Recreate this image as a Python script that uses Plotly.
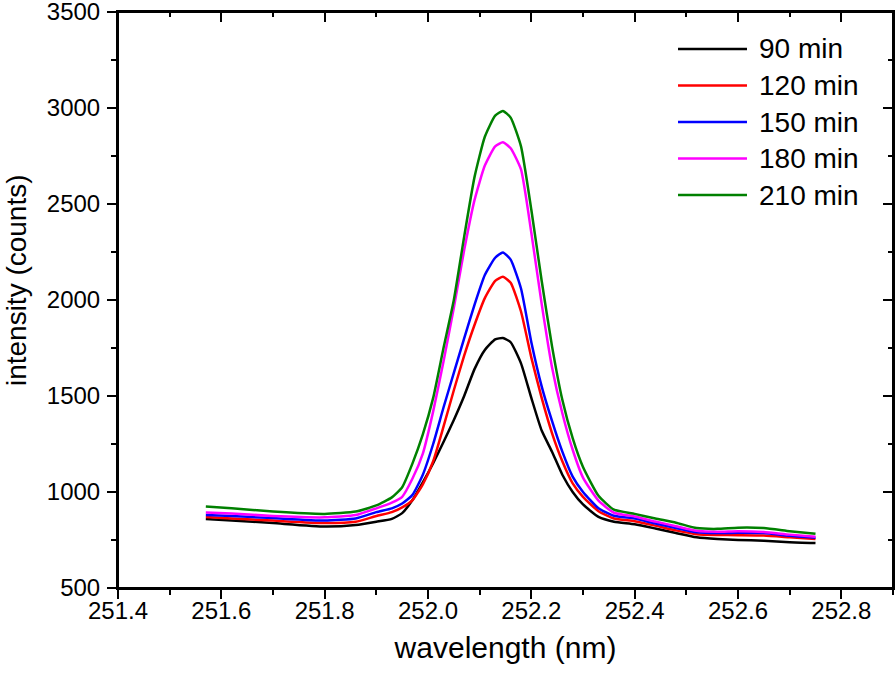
import plotly.graph_objects as go

# wavelength grid (nm)
wavelength = [251.57, 251.62, 251.70, 251.80, 251.86, 251.90, 251.93, 251.95, 251.97, 251.99,
              252.01, 252.03, 252.05, 252.07, 252.09, 252.11, 252.13, 252.145, 252.16, 252.18,
              252.20, 252.22, 252.24, 252.26, 252.28, 252.30, 252.33, 252.36, 252.40, 252.44,
              252.48, 252.52, 252.56, 252.60, 252.65, 252.70, 252.75]

# intensity (counts) per acquisition time
i_90 = [860, 852, 838, 820, 828, 845, 860, 890, 958, 1050,
        1150, 1260, 1375, 1500, 1640, 1740, 1795, 1802, 1780, 1670,
        1490, 1320, 1210, 1090, 1000, 935, 870, 845, 832, 810,
        786, 764, 755, 750, 746, 738, 734]
i_120 = [870, 862, 851, 838, 845, 875, 895, 920, 958, 1040,
         1160, 1340, 1530, 1710, 1870, 2010, 2100, 2121, 2090, 1940,
         1700, 1490, 1307, 1160, 1045, 975, 900, 862, 848, 825,
         800, 780, 776, 775, 773, 764, 755]
i_150 = [880, 875, 864, 851, 862, 895, 915, 940, 985, 1090,
         1250, 1440, 1620, 1800, 1975, 2130, 2220, 2248, 2210, 2060,
         1780, 1550, 1370, 1210, 1080, 1000, 915, 876, 862, 836,
         812, 790, 786, 788, 786, 772, 762]
i_180 = [893, 888, 875, 868, 880, 915, 945, 975, 1070, 1200,
         1420, 1680, 1960, 2260, 2520, 2700, 2800, 2822, 2790, 2680,
         2350, 1980, 1650, 1410, 1220, 1075, 955, 892, 872, 846,
         822, 798, 793, 796, 792, 778, 767]
i_210 = [924, 915, 898, 886, 898, 930, 972, 1025, 1149, 1300,
         1490, 1750, 2000, 2330, 2640, 2850, 2960, 2985, 2950, 2800,
         2470, 2100, 1760, 1480, 1280, 1130, 980, 908, 886, 862,
         840, 812, 808, 814, 812, 796, 782]

series = [
    ("90 min", i_90, "#000000"),
    ("120 min", i_120, "#ff0000"),
    ("150 min", i_150, "#0000ff"),
    ("180 min", i_180, "#ff00ff"),
    ("210 min", i_210, "#008000"),
]

FONT = "Liberation Sans, Arial, sans-serif"
X_RANGE = [251.4, 252.9]
Y_RANGE = [500, 3500]

fig = go.Figure()

for name, vals, color in series:
    fig.add_trace(
        go.Scatter(
            x=wavelength,
            y=vals,
            mode="lines",
            name=name,
            line=dict(color=color, width=2.5, shape="spline", smoothing=0.5),
            showlegend=False,
        )
    )

# invisible copies on the twin axes so the top/right inward ticks get drawn
fig.add_trace(go.Scatter(x=wavelength, y=i_90, xaxis="x2", yaxis="y", mode="lines",
                         opacity=0, showlegend=False, hoverinfo="skip"))
fig.add_trace(go.Scatter(x=wavelength, y=i_90, xaxis="x", yaxis="y2", mode="lines",
                         opacity=0, showlegend=False, hoverinfo="skip"))

# closed frame round the plot area
fig.add_shape(
    type="rect", xref="paper", yref="paper", x0=0, x1=1, y0=0, y1=1,
    line=dict(color="black", width=2), layer="above",
)

# hand-made legend (longer line samples, like the original)
for k, (name, vals, color) in enumerate(series):
    y_row = 0.9358 - k * 0.0634
    fig.add_shape(
        type="line", xref="paper", yref="paper",
        x0=0.7226, x1=0.8116, y0=y_row, y1=y_row,
        line=dict(color=color, width=2.5),
    )
    fig.add_annotation(
        xref="paper", yref="paper", x=0.8245, y=y_row,
        xanchor="left", yanchor="middle", showarrow=False,
        text=name, font=dict(family=FONT, size=28, color="black"),
    )

# y-axis title placed by hand
fig.add_annotation(
    xref="paper", yref="paper", x=-0.130, y=0.535,
    xanchor="center", yanchor="middle", showarrow=False, textangle=-90,
    text="intensity (counts)", font=dict(family=FONT, size=28, color="black"),
)

axis_common = dict(
    showgrid=False,
    zeroline=False,
    showline=True,
    linecolor="black",
    linewidth=2,
    tickcolor="black",
    tickwidth=2,
    automargin=False,
)

fig.update_layout(
    xaxis=dict(
        **axis_common,
        range=X_RANGE,
        dtick=0.2,
        tick0=251.4,
        tickformat=".1f",
        ticks="outside",
        ticklen=9,
        ticklabelstandoff=-9,
        minor=dict(dtick=0.1, ticks="outside", ticklen=5, tickwidth=2, tickcolor="black"),
        tickfont=dict(family=FONT, size=24, color="black"),
        title=dict(text="wavelength (nm)", font=dict(family=FONT, size=30, color="black"), standoff=14),
    ),
    yaxis=dict(
        **axis_common,
        range=Y_RANGE,
        dtick=500,
        ticks="outside",
        ticklen=9,
        ticklabeloverflow="allow",
        ticklabelstandoff=2,
        minor=dict(dtick=250, ticks="outside", ticklen=5, tickwidth=2, tickcolor="black"),
        tickfont=dict(family=FONT, size=24, color="black"),
    ),
    xaxis2=dict(
        **axis_common,
        side="top",
        anchor="y",
        range=X_RANGE,
        dtick=0.2,
        tick0=251.4,
        ticks="inside",
        ticklen=10,
        showticklabels=False,
        minor=dict(dtick=0.1, ticks="inside", ticklen=5, tickwidth=2, tickcolor="black"),
    ),
    yaxis2=dict(
        **axis_common,
        overlaying="y",
        side="right",
        anchor="x",
        range=Y_RANGE,
        dtick=500,
        ticks="inside",
        ticklen=10,
        showticklabels=False,
        minor=dict(dtick=250, ticks="inside", ticklen=5, tickwidth=2, tickcolor="black"),
    ),
    showlegend=False,
    plot_bgcolor="rgba(0,0,0,0)",
    paper_bgcolor="white",
    width=896,
    height=674,
    margin=dict(l=118, r=3, t=12, b=86),
)

# drop the page's default body margin so the figure fills the window exactly
fig.write_html(
    "out.html",
    config={"displayModeBar": False},
    post_script="document.body.style.margin='0';document.body.style.overflow='hidden';",
)
